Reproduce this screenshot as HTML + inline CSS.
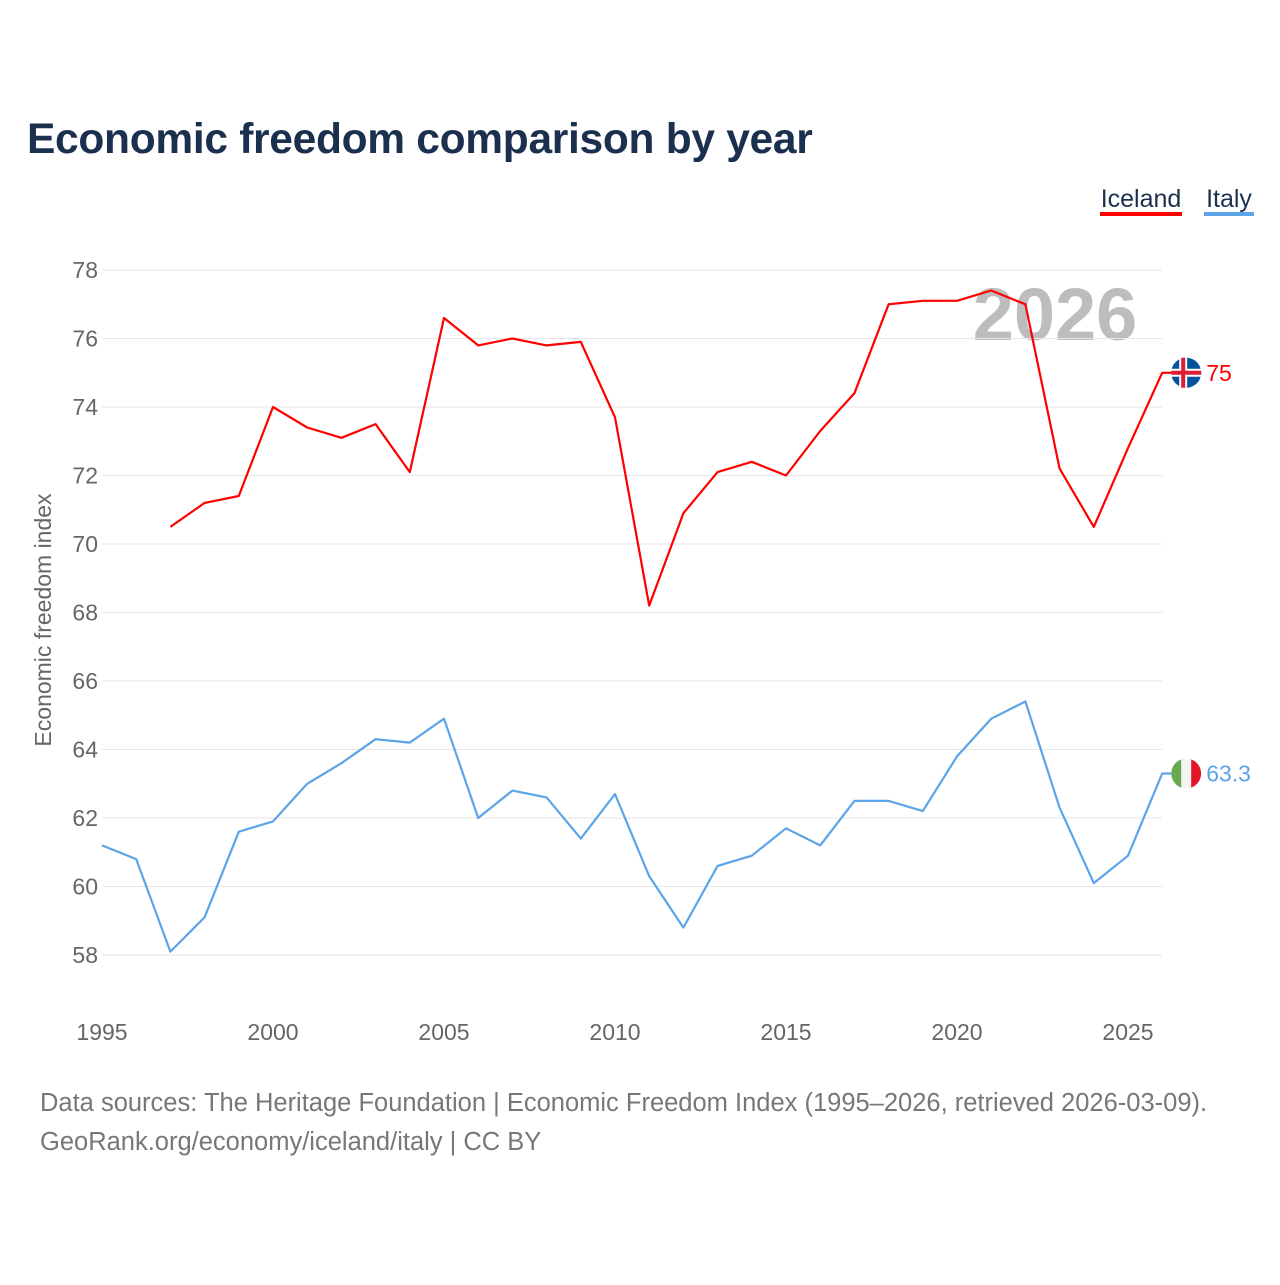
<!DOCTYPE html>
<html><head><meta charset="utf-8"><style>
body{margin:0;background:#fff;}
svg text{font-family:"Liberation Sans",sans-serif;}
</style></head><body>
<svg id="chart" width="1280" height="1280" viewBox="0 0 1280 1280">
<rect width="1280" height="1280" fill="#fff"/>
<text x="27" y="153" font-size="42.5" font-weight="bold" fill="#1b2f4e" letter-spacing="-0.3">Economic freedom comparison by year</text>
<g>
<text x="1141" y="207" font-size="25" fill="#1b2f4e" text-anchor="middle">Iceland</text>
<rect x="1100" y="212" width="82" height="4" fill="#ff0000"/>
<text x="1229" y="207" font-size="25" fill="#1b2f4e" text-anchor="middle">Italy</text>
<rect x="1204" y="212" width="50" height="4" fill="#5ba4e8"/>
</g>
<text x="1055" y="340" font-size="74" font-weight="bold" fill="#bdbdbd" text-anchor="middle">2026</text>
<g id="grid"></g>
<g id="axes"></g>
<text transform="translate(51,620) rotate(-90)" font-size="23" fill="#666" text-anchor="middle">Economic freedom index</text>
<g id="series"></g>
<text x="40" y="1111" font-size="25.5" fill="#777">Data sources: The Heritage Foundation | Economic Freedom Index (1995–2026, retrieved 2026-03-09).</text>
<text x="40" y="1150" font-size="25.5" fill="#777">GeoRank.org/economy/iceland/italy | CC BY</text>
</svg>
<script>
const years=[1995,1996,1997,1998,1999,2000,2001,2002,2003,2004,2005,2006,2007,2008,2009,2010,2011,2012,2013,2014,2015,2016,2017,2018,2019,2020,2021,2022,2023,2024,2025,2026];
const iceland=[null,null,70.5,71.2,71.4,74.0,73.4,73.1,73.5,72.1,76.6,75.8,76.0,75.8,75.9,73.7,68.2,70.9,72.1,72.4,72.0,73.3,74.4,77.0,77.1,77.1,77.4,77.0,72.2,70.5,72.8,75.0];
const italy=[61.2,60.8,58.1,59.1,61.6,61.9,63.0,63.6,64.3,64.2,64.9,62.0,62.8,62.6,61.4,62.7,60.3,58.8,60.6,60.9,61.7,61.2,62.5,62.5,62.2,63.8,64.9,65.4,62.3,60.1,60.9,63.3];
const yTicks=[58,60,62,64,66,68,70,72,74,76,78];
const xTicks=[1995,2000,2005,2010,2015,2020,2025];
const NS="http://www.w3.org/2000/svg";
const X=y=>102+(y-1995)*34.2;
const Y=v=>955-(v-58)*34.25;
function mk(tag,attrs,parent){const e=document.createElementNS(NS,tag);for(const k in attrs)e.setAttribute(k,attrs[k]);parent.appendChild(e);return e;}
const grid=document.getElementById('grid'),axes=document.getElementById('axes'),ser=document.getElementById('series');
yTicks.forEach(t=>{
 const l=mk('line',{x1:102,x2:1162,y1:Y(t),y2:Y(t),stroke:'#e6e6e6','stroke-width':1},grid);
 
 
 const tx=mk('text',{x:98,y:Y(t)+8,'font-size':23,fill:'#666','text-anchor':'end'},axes);
 tx.textContent=t;
 
 
});
xTicks.forEach(t=>{
 const tx=mk('text',{x:X(t),y:1040,'font-size':23,fill:'#666','text-anchor':'middle'},axes);
 tx.textContent=t;
 
 
});
function line(vals,color,name){
 let d='';vals.forEach((v,i)=>{if(v==null)return;d+=(d?'L':'M')+X(years[i]).toFixed(1)+','+Y(v).toFixed(1);});
 const last=vals[vals.length-1];
 const cx=X(years[years.length-1])+24,cy=Y(last);
 d+='L'+(cx-14).toFixed(1)+','+cy.toFixed(1);
 const p=mk('path',{d:d,fill:'none',stroke:color,'stroke-width':2.2,'stroke-linejoin':'round'},ser);
 
 
 const g=mk('g',{},ser);
 
 
 if(name==='iceland'){
  mk('circle',{cx:cx,cy:cy,r:15,fill:'#02529c'},g);
  mk('rect',{x:cx-15,y:cy-4,width:30,height:8,fill:'#fff'},g);
  mk('rect',{x:cx-7,y:cy-15,width:8,height:30,fill:'#fff'},g);
  mk('rect',{x:cx-15,y:cy-2,width:30,height:4,fill:'#dc1e35'},g);
  mk('rect',{x:cx-5,y:cy-15,width:4,height:30,fill:'#dc1e35'},g);
 } else {
  mk('circle',{cx:cx,cy:cy,r:15,fill:'#f4f5f0'},g);
  mk('path',{d:`M${cx-5},${cy-14.1}A15,15 0 0 0 ${cx-5},${cy+14.1}Z`,fill:'#6aa84f'},g);
  mk('path',{d:`M${cx+5},${cy-14.1}A15,15 0 0 1 ${cx+5},${cy+14.1}Z`,fill:'#e0162b'},g);
 }
 const t=mk('text',{x:cx+20,y:cy+8,'font-size':23,fill:color},ser);
 t.textContent=last;
 
 
}
line(iceland,'#ff0000','iceland');
line(italy,'#5ba4e8','italy');
</script>
</body></html>
